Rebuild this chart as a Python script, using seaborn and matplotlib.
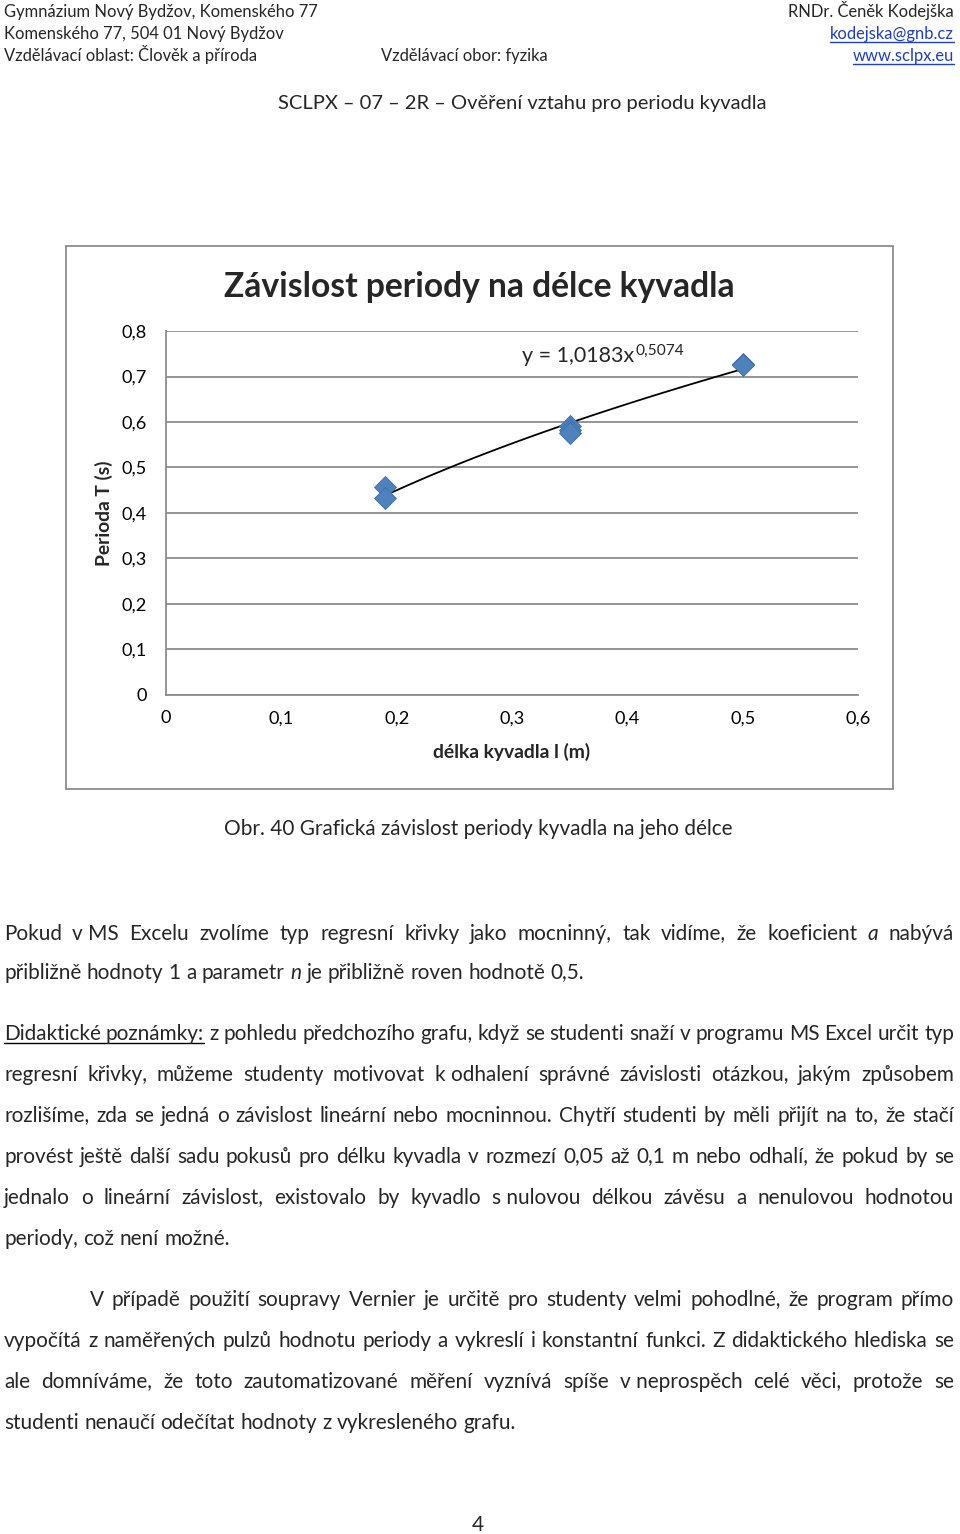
import math
import numpy as np
import pandas as pd
import matplotlib
matplotlib.use("Agg")
import matplotlib.pyplot as plt
import seaborn as sns
from matplotlib.patches import Rectangle
from matplotlib.lines import Line2D
from matplotlib.font_manager import FontProperties

delka = [0.19, 0.19, 0.35, 0.35, 0.35, 0.50, 0.50]
perioda = [0.457, 0.433, 0.591, 0.583, 0.575, 0.728, 0.725]
koef_a = 1.0183
koef_n = 0.5074
x_ticks = [0, 0.1, 0.2, 0.3, 0.4, 0.5, 0.6]
y_ticks = [0, 0.1, 0.2, 0.3, 0.4, 0.5, 0.6, 0.7, 0.8]

sns.set_style("white")
FONT = "Lato"
FAMS = [FONT, "DejaVu Sans"]
plt.rcParams["font.family"] = FAMS

W, H = 960, 1534
fig = plt.figure(figsize=(W / 100, H / 100), dpi=100)
renderer = fig.canvas.get_renderer()


def fx(px):
    return px / W


def fy(py):
    return 1 - py / H


def fp(size, weight="normal", style="normal"):
    return FontProperties(family=FAMS, size=size, weight=weight, style=style)


def tw(s, prop):
    return renderer.get_text_width_height_descent(s, prop, ismath=False)[0]


def width_of(s, size, weight="normal", style="normal"):
    return tw(s, fp(size, weight, style))


def fit(s, target, weight="normal"):
    return 10 * target / width_of(s, 10, weight)


def underline(x0, x1, y, color="black"):
    fig.add_artist(Line2D([fx(x0), fx(x1)], [fy(y), fy(y)], color=color, lw=1.0,
                          transform=fig.transFigure))


def base_shift(s, prop, yb):
    # agg rounds the bitmap position from the string's own descent,
    # which moves words like "vidíme," a pixel down; undo that
    _, h, d = renderer.get_text_width_height_descent(s, prop, ismath=False)
    return round(yb + d) - yb - math.floor(h) + math.floor(h - d)


# ---- header ----
hs = fit("Gymnázium Nový Bydžov, Komenského 77", 314)
fig.text(fx(4), fy(17), "Gymnázium Nový Bydžov, Komenského 77", fontsize=hs, va="baseline")
fig.text(fx(4), fy(39), "Komenského 77, 504 01 Nový Bydžov", fontsize=hs, va="baseline")
fig.text(fx(4), fy(61), "Vzdělávací oblast: Člověk a příroda", fontsize=hs, va="baseline")
fig.text(fx(381), fy(61), "Vzdělávací obor: fyzika", fontsize=hs, va="baseline")
fig.text(fx(954), fy(17), "RNDr. Čeněk Kodejška", fontsize=hs, va="baseline", ha="right")
link_col = "#1f3fc4"
for txt, yb in [("kodejska@gnb.cz", 39), ("www.sclpx.eu", 61)]:
    fig.text(fx(954), fy(yb), txt, fontsize=hs, va="baseline", ha="right", color=link_col)
    underline(954 - width_of(txt, hs), 954, yb + 3, link_col)

ts = fit("SCLPX – 07 – 2R – Ověření vztahu pro periodu kyvadla", 488)
fig.text(fx(522), fy(109), "SCLPX – 07 – 2R – Ověření vztahu pro periodu kyvadla",
         fontsize=ts, va="baseline", ha="center")

# ---- chart ----
fig.add_artist(Rectangle((fx(66), fy(789)), fx(893) - fx(66), fy(246) - fy(789),
                         fill=False, edgecolor="#8c8c8c", lw=1.3, transform=fig.transFigure))

ax = fig.add_axes([fx(166), fy(695), fx(858) - fx(166), fy(331) - fy(695)])
ax.set_xlim(0, 0.6)
ax.set_ylim(0, 0.8)

xs = np.linspace(min(delka), max(delka), 120)
trend = pd.DataFrame({"x": xs, "y": koef_a * xs ** koef_n})
sns.lineplot(data=trend, x="x", y="y", color="black", lw=1.3, ax=ax, zorder=2)
sns.scatterplot(x=delka, y=perioda, marker="D", s=125, color="#4f81bd",
                edgecolor="#3d6da6", linewidth=0.6, ax=ax, zorder=3, clip_on=False)

tick_size = fit("0,8", 25)
ax.set_xticks(x_ticks)
ax.set_yticks(y_ticks)
ax.set_xticklabels([f"{v:g}".replace(".", ",") for v in x_ticks])
ax.set_yticklabels([f"{v:g}".replace(".", ",") for v in y_ticks])
ax.tick_params(axis="both", length=0, labelsize=tick_size, labelcolor="black")
ax.tick_params(axis="y", pad=13.5)
ax.tick_params(axis="x", pad=11)
ax.yaxis.grid(True, color="#8c8c8c", lw=1.3)
ax.xaxis.grid(False)
ax.set_axisbelow(True)
for side in ["top", "right"]:
    ax.spines[side].set_visible(False)
for side in ["left", "bottom"]:
    ax.spines[side].set_color("#8c8c8c")
    ax.spines[side].set_linewidth(1.3)

ax.set_xlabel("délka kyvadla l (m)", fontsize=fit("délka kyvadla l (m)", 158, "bold"),
              fontweight="bold", va="center")
ax.xaxis.set_label_coords(0.5, (695 - 752) / 364)
ax.set_ylabel("Perioda T (s)", fontsize=fit("Perioda T (s)", 106, "bold"),
              fontweight="bold", va="center")
ax.yaxis.set_label_coords((104 - 166) / 692, (695 - 513) / 364)

fig.text(fx(479), fy(297), "Závislost periody na délce kyvadla",
         fontsize=fit("Závislost periody na délce kyvadla", 514, "bold"),
         fontweight="bold", ha="center", va="baseline")

eq_main = "y = 1,0183x"
eq_sup = "0,5074"
es = fit(eq_main, 112)
fig.text(fx(522), fy(362), eq_main, fontsize=es, va="baseline")
fig.text(fx(522 + width_of(eq_main, es) + 1), fy(355), eq_sup, fontsize=es * 0.72, va="baseline")

# ---- body text ----
bs = fit("studenti nenaučí odečítat hodnoty z vykresleného grafu.", 511)
space_w = width_of("a a", bs) - 2 * width_of("a", bs)

fig.text(fx(478.5), fy(835), "Obr. 40 Grafická závislost periody kyvadla na jeho délce",
         fontsize=bs, ha="center", va="baseline")


def par_line(yb, segs, x0=4, x1=None):
    # segs: list of (text, style); "~" ties two words together
    words = []
    for txt, st in segs:
        for w in txt.split():
            words.append((w.replace("~", " "), st))
    props = {st: fp(bs, style="italic" if st == "i" else "normal") for _, st in words}
    widths = [tw(w, props[st]) for w, st in words]
    gap = space_w if x1 is None else (x1 - x0 - sum(widths)) / (len(words) - 1)
    x = x0
    u_start = u_end = None
    for (w, st), wd in zip(words, widths):
        prop = props[st]
        yy = yb - base_shift(w, prop, yb)
        fig.text(fx(x), fy(yy), w, fontproperties=prop, va="baseline")
        if st == "u":
            if u_start is None:
                u_start = x
            u_end = x + wd
        x += wd + gap
    if u_start is not None:
        underline(u_start, u_end, yb + 3)


par_line(940, [("Pokud v~MS Excelu zvolíme typ regresní křivky jako mocninný, tak vidíme, že koeficient", "n"),
               ("a", "i"), ("nabývá", "n")], 4, 954)
par_line(979, [("přibližně hodnoty 1 a parametr", "n"), ("n", "i"),
               ("je přibližně roven hodnotě 0,5.", "n")])

par_line(1040, [("Didaktické poznámky:", "u"),
                ("z pohledu předchozího grafu, když se studenti snaží v programu MS Excel určit typ", "n")], 4, 954)
par_line(1081, [("regresní křivky, můžeme studenty motivovat k~odhalení správné závislosti otázkou, jakým způsobem", "n")], 4, 954)
par_line(1122, [("rozlišíme, zda se jedná o závislost lineární nebo mocninnou. Chytří studenti by měli přijít na to, že stačí", "n")], 4, 954)
par_line(1163, [("provést ještě další sadu pokusů pro délku kyvadla v rozmezí 0,05 až 0,1 m nebo odhalí, že pokud by se", "n")], 4, 954)
par_line(1204, [("jednalo o lineární závislost, existovalo by kyvadlo s~nulovou délkou závěsu a nenulovou hodnotou", "n")], 4, 954)
par_line(1245, [("periody, což není možné.", "n")])

par_line(1306, [("V případě použití soupravy Vernier je určitě pro studenty velmi pohodlné, že program přímo", "n")], 90, 954)
par_line(1347, [("vypočítá z naměřených pulzů hodnotu periody a vykreslí i konstantní funkci. Z didaktického hlediska se", "n")], 4, 954)
par_line(1388, [("ale domníváme, že toto zautomatizované měření vyznívá spíše v~neprospěch celé věci, protože se", "n")], 4, 954)
par_line(1429, [("studenti nenaučí odečítat hodnoty z vykresleného grafu.", "n")])

fig.text(fx(478), fy(1531), "4", fontsize=bs, ha="center", va="baseline")

fig.savefig("out.png", dpi=100)
